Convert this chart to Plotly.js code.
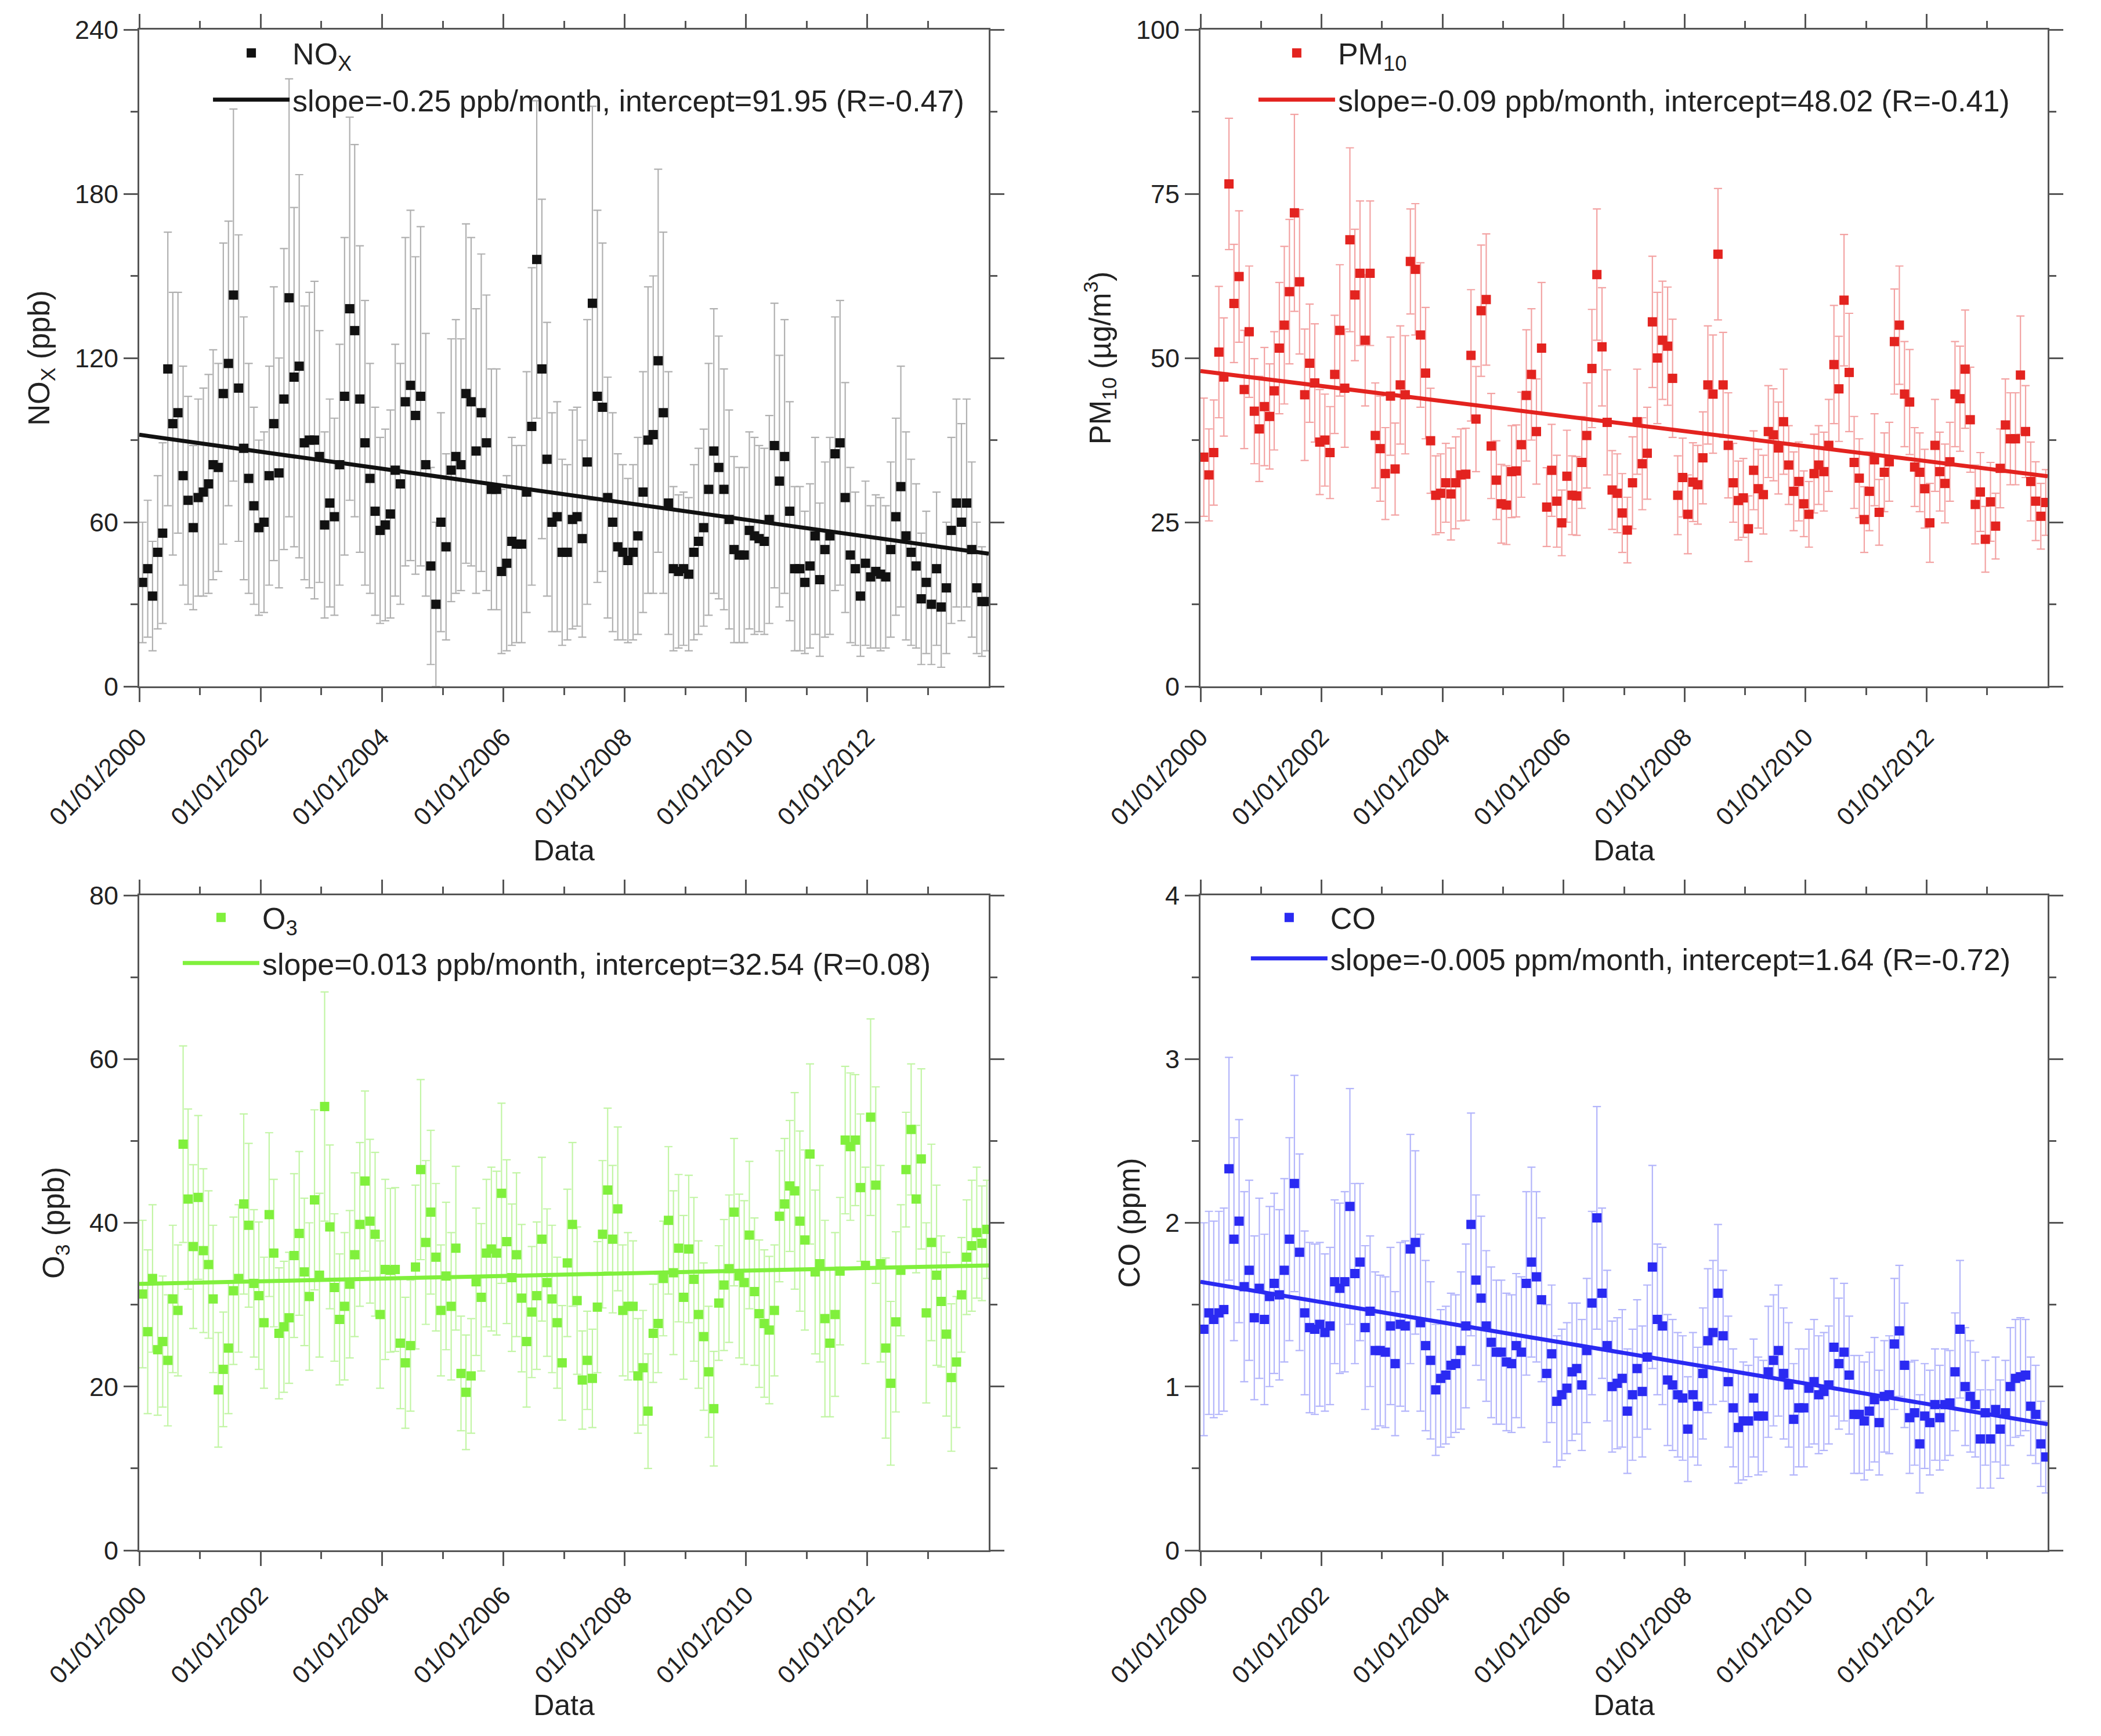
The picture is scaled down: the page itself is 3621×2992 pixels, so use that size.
<!DOCTYPE html>
<html>
<head>
<meta charset="utf-8">
<script src="https://cdn.plot.ly/plotly-3.0.1.min.js"></script>
<style>
  html, body { margin: 0; padding: 0; background: #fff; }
  #graph { width: 3621px; height: 2992px; }
</style>
</head>
<body>
<div id="graph"></div>
<script>
// monthly means Jan/2000 - Dec/2013
var noxValues = [
	38, 43, 33, 49, 56, 116, 96, 100, 77, 68,
	58, 69, 71, 74, 81, 80, 107, 118, 143, 109,
	87, 76, 66, 58, 60, 77, 96, 78, 105, 142,
	113, 117, 89, 90, 90, 84, 59, 67, 62, 81,
	106, 138, 130, 105, 89, 76, 64, 57, 59, 63,
	79, 74, 104, 110, 99, 106, 81, 44, 30, 60,
	51, 79, 84, 81, 107, 104, 86, 100, 89, 72,
	72, 42, 45, 53, 52, 52, 71, 95, 156, 116,
	83, 60, 62, 49, 49, 61, 62, 54, 82, 140,
	106, 102, 69, 60, 51, 49, 46, 49, 55, 71,
	90, 92, 119, 100, 67, 43, 42, 43, 41, 49,
	53, 58, 72, 86, 80, 72, 61, 50, 48, 48,
	57, 55, 54, 53, 61, 88, 75, 84, 64, 43,
	43, 38, 44, 55, 39, 50, 55, 85, 89, 69,
	48, 43, 33, 45, 40, 42, 41, 40, 50, 62,
	73, 55, 49, 44, 32, 38, 30, 43, 29, 36,
	57, 67, 60, 67, 50, 36, 31, 31
];
var noxErr = [
	22, 25, 20, 28, 33, 50, 48, 44, 40, 38,
	30, 36, 38, 40, 42, 38, 55, 52, 68, 56,
	48, 42, 36, 32, 33, 40, 50, 42, 55, 80,
	62, 70, 50, 54, 58, 46, 34, 38, 36, 44,
	58, 70, 68, 56, 52, 42, 38, 34, 35, 38,
	46, 44, 60, 64, 58, 62, 48, 36, 30, 40,
	34, 48, 50, 46, 62, 60, 52, 58, 54, 44,
	44, 30, 32, 38, 36, 36, 44, 58, 58, 62,
	50, 40, 42, 34, 32, 40, 40, 36, 52, 72,
	68, 60, 44, 40, 34, 32, 30, 32, 36, 44,
	56, 58, 70, 66, 48, 30, 28, 28, 28, 32,
	34, 36, 46, 52, 48, 44, 40, 34, 32, 32,
	36, 36, 34, 34, 38, 52, 46, 50, 40, 30,
	30, 26, 30, 36, 28, 32, 36, 50, 52, 42,
	32, 28, 22, 30, 26, 28, 28, 26, 32, 36,
	44, 38, 34, 30, 24, 26, 22, 28, 22, 24,
	34, 38, 36, 38, 32, 24, 20, 18
];
var pm10Values = [
	34.9, 32.2, 35.6, 50.9, 47.1, 76.5, 58.3, 62.4, 45.2, 54.0,
	41.9, 39.2, 42.6, 41.1, 45.0, 51.5, 55.0, 60.1, 72.1, 61.6,
	44.4, 49.2, 46.2, 37.2, 37.5, 35.6, 47.5, 54.2, 45.4, 68.0,
	59.6, 62.9, 52.7, 62.9, 38.2, 36.2, 32.4, 44.2, 33.1, 45.9,
	44.4, 64.7, 63.5, 53.5, 47.7, 37.4, 29.1, 29.4, 31.0, 29.3,
	31.0, 32.2, 32.3, 50.4, 40.7, 57.2, 58.9, 36.6, 31.4, 27.8,
	27.6, 32.7, 32.8, 36.8, 44.3, 47.5, 38.8, 51.5, 27.3, 32.9,
	28.2, 24.9, 32.0, 29.1, 29.0, 34.1, 38.2, 48.4, 62.7, 51.7,
	40.2, 29.9, 29.4, 26.4, 23.8, 31.0, 40.3, 33.9, 35.5, 55.5,
	50.0, 52.7, 51.8, 46.9, 29.1, 31.8, 26.2, 31.1, 30.7, 34.8,
	45.9, 44.5, 65.8, 45.9, 36.7, 31.0, 28.3, 28.7, 24.0, 32.9,
	30.1, 29.2, 38.8, 38.3, 36.3, 40.3, 33.7, 29.7, 31.2, 27.8,
	26.2, 32.4, 33.7, 32.7, 36.7, 49.0, 45.3, 58.8, 47.8, 34.1,
	31.7, 25.4, 29.7, 34.5, 26.5, 32.6, 34.2, 52.5, 55.0, 44.5,
	43.3, 33.4, 32.6, 30.1, 24.9, 36.7, 32.7, 30.9, 34.2, 44.5,
	43.8, 48.3, 40.6, 27.7, 29.6, 22.4, 28.1, 24.4, 33.2, 39.8,
	37.7, 37.7, 47.4, 38.8, 31.2, 28.2, 25.9, 28.0
];
var pm10Err = [
	9, 7, 8, 10, 9, 10, 9, 10, 9, 10,
	8, 8, 9, 8, 9, 10, 12, 11, 15, 11,
	10, 9, 9, 8, 7, 7, 9, 10, 9, 14,
	10, 11, 10, 11, 8, 8, 7, 9, 7, 9,
	9, 8, 10, 11, 10, 8, 6, 6, 6, 7,
	7, 7, 7, 10, 8, 10, 10, 8, 6, 6,
	6, 7, 7, 8, 10, 10, 8, 10, 6, 7,
	7, 5, 7, 6, 6, 7, 8, 9, 10, 9,
	8, 6, 6, 6, 5, 7, 8, 7, 7, 10,
	10, 9, 9, 9, 6, 6, 6, 6, 6, 7,
	9, 9, 10, 8, 8, 6, 6, 6, 5, 6,
	6, 6, 7, 7, 7, 8, 6, 6, 6, 5,
	5, 6, 6, 6, 7, 9, 8, 10, 9, 7,
	6, 5, 6, 7, 5, 6, 6, 8, 9, 8,
	8, 6, 6, 6, 6, 7, 6, 6, 6, 8,
	8, 9, 8, 6, 6, 5, 6, 5, 6, 7,
	7, 7, 9, 7, 6, 6, 5, 5
];
var o3Values = [
	31.3, 26.7, 33.2, 24.5, 25.5, 23.2, 30.7, 29.3, 49.6, 42.9,
	37.1, 43.1, 36.6, 34.9, 30.7, 19.6, 22.1, 24.7, 31.7, 33.2,
	42.3, 39.7, 32.6, 31.1, 27.8, 41.0, 36.3, 26.5, 27.3, 28.4,
	36.0, 38.7, 34.0, 31.0, 42.8, 33.6, 54.2, 39.5, 32.1, 28.2,
	29.8, 32.5, 36.1, 39.8, 45.1, 40.2, 38.6, 28.8, 34.3, 34.2,
	34.3, 25.3, 22.9, 25.0, 34.6, 46.5, 37.6, 41.3, 35.8, 29.3,
	33.5, 29.8, 36.9, 21.6, 19.3, 21.3, 32.8, 30.9, 36.3, 36.8,
	36.3, 43.6, 37.7, 33.3, 36.1, 30.8, 25.5, 29.1, 31.1, 38.0,
	32.7, 30.7, 27.8, 22.9, 35.1, 39.8, 30.5, 20.8, 23.2, 21.0,
	29.7, 38.6, 44.0, 38.0, 41.7, 29.3, 29.8, 29.8, 21.3, 22.3,
	17.0, 26.5, 27.7, 33.2, 40.3, 33.9, 36.9, 30.9, 36.8, 33.1,
	28.8, 26.1, 21.8, 17.3, 30.2, 32.4, 34.4, 41.3, 33.5, 32.7,
	38.5, 31.6, 28.9, 27.7, 26.9, 29.3, 40.8, 42.3, 44.5, 43.9,
	40.2, 37.9, 48.4, 34.0, 35.0, 28.3, 25.3, 28.8, 34.1, 50.1,
	49.3, 50.1, 44.3, 34.8, 52.9, 44.6, 35.0, 24.7, 20.4, 27.9,
	34.2, 46.5, 51.4, 42.9, 47.8, 29.0, 37.6, 33.6, 30.4, 26.4,
	21.1, 23.0, 31.2, 35.8, 37.2, 38.8, 37.5, 39.2
];
var o3Err = [
	9, 10, 9, 8, 8, 8, 9, 8, 12, 11,
	10, 10, 10, 9, 9, 7, 7, 8, 9, 9,
	11, 10, 9, 9, 8, 10, 9, 8, 8, 8,
	10, 10, 9, 9, 11, 10, 14, 10, 9, 8,
	9, 9, 10, 10, 11, 10, 10, 9, 11, 10,
	10, 8, 8, 8, 10, 11, 10, 10, 9, 8,
	9, 9, 10, 7, 7, 7, 9, 9, 9, 10,
	10, 11, 10, 9, 10, 9, 8, 8, 9, 10,
	9, 9, 8, 7, 9, 10, 9, 6, 6, 6,
	8, 9, 10, 9, 10, 8, 9, 8, 7, 7,
	7, 6, 6, 7, 9, 10, 9, 10, 9, 10,
	9, 9, 8, 7, 7, 8, 9, 9, 10, 10,
	9, 9, 9, 9, 9, 8, 8, 8, 8, 12,
	11, 11, 11, 10, 12, 12, 9, 10, 9, 9,
	9, 8, 9, 12, 12, 12, 12, 11, 10, 11,
	8, 7, 8, 9, 11, 11, 12, 11, 8, 10,
	9, 8, 7, 7, 8, 8, 7, 6
];
var coValues = [
	1.35, 1.45, 1.41, 1.45, 1.47, 2.33, 1.90, 2.01, 1.61, 1.71,
	1.42, 1.60, 1.41, 1.55, 1.63, 1.56, 1.71, 1.90, 2.24, 1.82,
	1.45, 1.36, 1.35, 1.38, 1.33, 1.37, 1.64, 1.60, 1.64, 2.10,
	1.69, 1.76, 1.36, 1.46, 1.22, 1.22, 1.21, 1.37, 1.14, 1.38,
	1.37, 1.84, 1.88, 1.39, 1.25, 1.16, 0.98, 1.05, 1.07, 1.13,
	1.14, 1.22, 1.37, 1.99, 1.65, 1.54, 1.37, 1.27, 1.21, 1.21,
	1.15, 1.14, 1.25, 1.21, 1.63, 1.76, 1.67, 1.53, 1.08, 1.20,
	0.91, 0.95, 0.99, 1.09, 1.11, 1.01, 1.22, 1.51, 2.03, 1.57,
	1.25, 1.00, 1.02, 1.05, 0.85, 0.95, 1.11, 0.97, 1.18, 1.73,
	1.41, 1.37, 1.04, 1.01, 0.95, 0.93, 0.74, 0.95, 0.88, 1.08,
	1.28, 1.33, 1.57, 1.31, 1.03, 0.87, 0.75, 0.79, 0.79, 0.93,
	0.82, 0.82, 1.09, 1.16, 1.22, 1.08, 1.01, 0.80, 0.87, 0.87,
	0.99, 1.03, 0.95, 0.97, 1.01, 1.24, 1.14, 1.21, 1.07, 0.83,
	0.83, 0.79, 0.85, 0.92, 0.78, 0.94, 0.95, 1.26, 1.34, 1.13,
	0.81, 0.84, 0.65, 0.82, 0.78, 0.89, 0.81, 0.89, 0.90, 1.09,
	1.35, 1.00, 0.94, 0.89, 0.68, 0.84, 0.68, 0.86, 0.74, 0.84,
	1.00, 1.05, 1.06, 1.07, 0.88, 0.83, 0.65, 0.57
];
var coErr = [
	0.65, 0.62, 0.60, 0.62, 0.62, 0.68, 0.62, 0.62, 0.58, 0.55,
	0.50, 0.55, 0.52, 0.55, 0.55, 0.52, 0.56, 0.62, 0.66, 0.60,
	0.50, 0.52, 0.52, 0.50, 0.48, 0.48, 0.50, 0.52, 0.55, 0.72,
	0.55, 0.48, 0.50, 0.46, 0.48, 0.46, 0.46, 0.48, 0.44, 0.50,
	0.52, 0.70, 0.56, 0.54, 0.52, 0.48, 0.40, 0.42, 0.42, 0.44,
	0.42, 0.48, 0.50, 0.68, 0.52, 0.50, 0.46, 0.46, 0.44, 0.44,
	0.42, 0.42, 0.44, 0.46, 0.56, 0.58, 0.52, 0.50, 0.42, 0.42,
	0.40, 0.40, 0.40, 0.42, 0.40, 0.40, 0.44, 0.56, 0.68, 0.52,
	0.46, 0.40, 0.40, 0.42, 0.38, 0.40, 0.42, 0.40, 0.44, 0.62,
	0.46, 0.48, 0.40, 0.40, 0.38, 0.38, 0.32, 0.38, 0.36, 0.40,
	0.44, 0.44, 0.42, 0.40, 0.40, 0.36, 0.34, 0.36, 0.34, 0.36,
	0.36, 0.34, 0.40, 0.40, 0.40, 0.40, 0.38, 0.34, 0.36, 0.36,
	0.36, 0.38, 0.36, 0.36, 0.36, 0.42, 0.40, 0.42, 0.36, 0.36,
	0.36, 0.36, 0.36, 0.38, 0.32, 0.34, 0.36, 0.40, 0.40, 0.38,
	0.34, 0.32, 0.30, 0.32, 0.32, 0.34, 0.32, 0.34, 0.32, 0.36,
	0.42, 0.36, 0.34, 0.32, 0.30, 0.32, 0.30, 0.32, 0.30, 0.32,
	0.36, 0.36, 0.36, 0.34, 0.30, 0.30, 0.26, 0.22
];

// linear fits: value at start (Jan/2000) and end (Dec/2013) of the line
var fitNames = [
	'slope=-0.25 ppb/month, intercept=91.95 (R=-0.47)',
	'slope=-0.09 ppb/month, intercept=48.02 (R=-0.41)',
	'slope=0.013 ppb/month, intercept=32.54 (R=0.08)',
	'slope=-0.005 ppm/month, intercept=1.64 (R=-0.72)'
];
var fitStart = [91.95, 48.02, 32.54, 1.64];
var fitEnd = [48.5, 32.0, 34.8, 0.77];
var fitDates = ['2000-01-01', '2014-01-01'];

var seriesNames = ['NO<sub>X</sub>', 'PM<sub>10</sub>', 'O<sub>3</sub>', 'CO'];
var yTitles = ['NO<sub>X</sub> (ppb)', 'PM<sub>10</sub> (µg/m<sup>3</sup>)', 'O<sub>3</sub> (ppb)', 'CO (ppm)'];
var yRanges = [[0, 240], [0, 100], [0, 80], [0, 4]];
var yDticks = [60, 25, 20, 1];
var xTickDates = ['2000-01-01', '2002-01-01', '2004-01-01', '2006-01-01', '2008-01-01', '2010-01-01', '2012-01-01'];
var xTickText = ['01/01/2000', '01/01/2002', '01/01/2004', '01/01/2006', '01/01/2008', '01/01/2010', '01/01/2012'];

var months = [];
for (var i = 0; i < 168; i++) {
	var yr = 2000 + Math.floor(i / 12);
	var mo = (i % 12) + 1;
	months.push(yr + '-' + (mo < 10 ? '0' + mo : mo) + '-21');
}

var markColors = ['#111111', '#e3231f', '#80f03c', '#2a2af2'];
var barColors = ['#b0b0b0', '#f3a3a3', '#c2f5a5', '#b3b5fb'];
var allValues = [noxValues, pm10Values, o3Values, coValues];
var allErr = [noxErr, pm10Err, o3Err, coErr];

var FONT = 'Liberation Sans, Arial, sans-serif';
var TXT = '#222222';
var AX = '#555555';
// the y titles in the figure sit a bit below the middle of the axis
var PAD = '\u00a0\u00a0\u00a0\u00a0\u00a0';

var data = [];
for (var k = 0; k < 4; k++) {
	var sfx = k == 0 ? '' : String(k + 1);
	data.push({
		x: months, y: allValues[k], type: 'scatter', mode: 'markers',
		name: seriesNames[k], xaxis: 'x' + sfx, yaxis: 'y' + sfx,
		legend: 'legend' + sfx, legendgroup: 'p' + k,
		marker: {symbol: 'square', size: 16, color: markColors[k]},
		error_y: {type: 'data', array: allErr[k], visible: true, color: barColors[k], thickness: 2.2, width: 7}
	});
	data.push({
		x: fitDates, y: [fitStart[k], fitEnd[k]], type: 'scatter', mode: 'lines',
		name: fitNames[k], xaxis: 'x' + sfx, yaxis: 'y' + sfx,
		legend: 'legend' + sfx, legendgroup: 'f' + k,
		line: {color: markColors[k], width: 7}
	});
}

function xAxis(dom, anchor, lblGap, ttlGap) {
	return {
		domain: dom, anchor: anchor, type: 'date',
		range: ['2000-01-01', '2014-01-01'],
		tickmode: 'array', tickvals: xTickDates, ticktext: xTickText, tickangle: -45,
		ticks: 'outside', ticklen: 24, tickwidth: 3, tickcolor: AX, ticklabelstandoff: lblGap,
		minor: {ticks: 'outside', tick0: '2001-01-01', dtick: 'M24', ticklen: 12, tickwidth: 3, tickcolor: AX},
		showline: true, mirror: 'ticks', linecolor: AX, linewidth: 3,
		showgrid: false, zeroline: false,
		tickfont: {family: FONT, size: 43, color: TXT},
		title: {text: 'Data', standoff: ttlGap, font: {family: FONT, size: 50, color: TXT}}
	};
}
function yAxis(dom, anchor, k) {
	return {
		domain: dom, anchor: anchor, range: yRanges[k],
		tick0: 0, dtick: yDticks[k],
		ticks: 'outside', ticklen: 24, tickwidth: 3, tickcolor: AX,
		minor: {ticks: 'outside', dtick: yDticks[k] / 2, ticklen: 12, tickwidth: 3, tickcolor: AX},
		showline: true, mirror: 'ticks', linecolor: AX, linewidth: 3,
		showgrid: false, zeroline: false,
		tickfont: {family: FONT, size: 45, color: TXT},
		title: {text: yTitles[k] + PAD, standoff: 28, font: {family: FONT, size: 51, color: TXT}}
	};
}
function legendAt(x, y, gap) {
	return {
		x: x, y: y, xanchor: 'left', yanchor: 'top', bgcolor: 'rgba(0,0,0,0)',
		font: {family: FONT, size: 52, color: TXT},
		traceorder: 'grouped', tracegroupgap: gap, itemwidth: 132
	};
}

var leftX = [240 / 3621, 1704 / 3621];
var rightX = [2069 / 3621, 3529 / 3621];
var topY = [1 - 1183 / 2992, 1 - 51 / 2992];
var botY = [1 - 2672 / 2992, 1 - 1543 / 2992];

var layout = {
	width: 3621, height: 2992,
	margin: {l: 0, r: 0, t: 0, b: 0},
	paper_bgcolor: '#ffffff', plot_bgcolor: '#ffffff',
	font: {family: FONT, color: TXT},
	xaxis: xAxis(leftX, 'y', 18, 18), yaxis: yAxis(topY, 'x', 0),
	xaxis2: xAxis(rightX, 'y2', 18, 18), yaxis2: yAxis(topY, 'x2', 1),
	xaxis3: xAxis(leftX, 'y3', 8, 2), yaxis3: yAxis(botY, 'x3', 2),
	xaxis4: xAxis(rightX, 'y4', 8, 2), yaxis4: yAxis(botY, 'x4', 3),
	legend: legendAt(0.100, 0.983, 10),
	legend2: legendAt(0.5976, 0.983, 10),
	legend3: legendAt(0.0856, 0.485, 8),
	legend4: legendAt(0.5940, 0.485, 0),
	showlegend: true
};

Plotly.newPlot('graph', data, layout, {staticPlot: true});
</script>
</body>
</html>
